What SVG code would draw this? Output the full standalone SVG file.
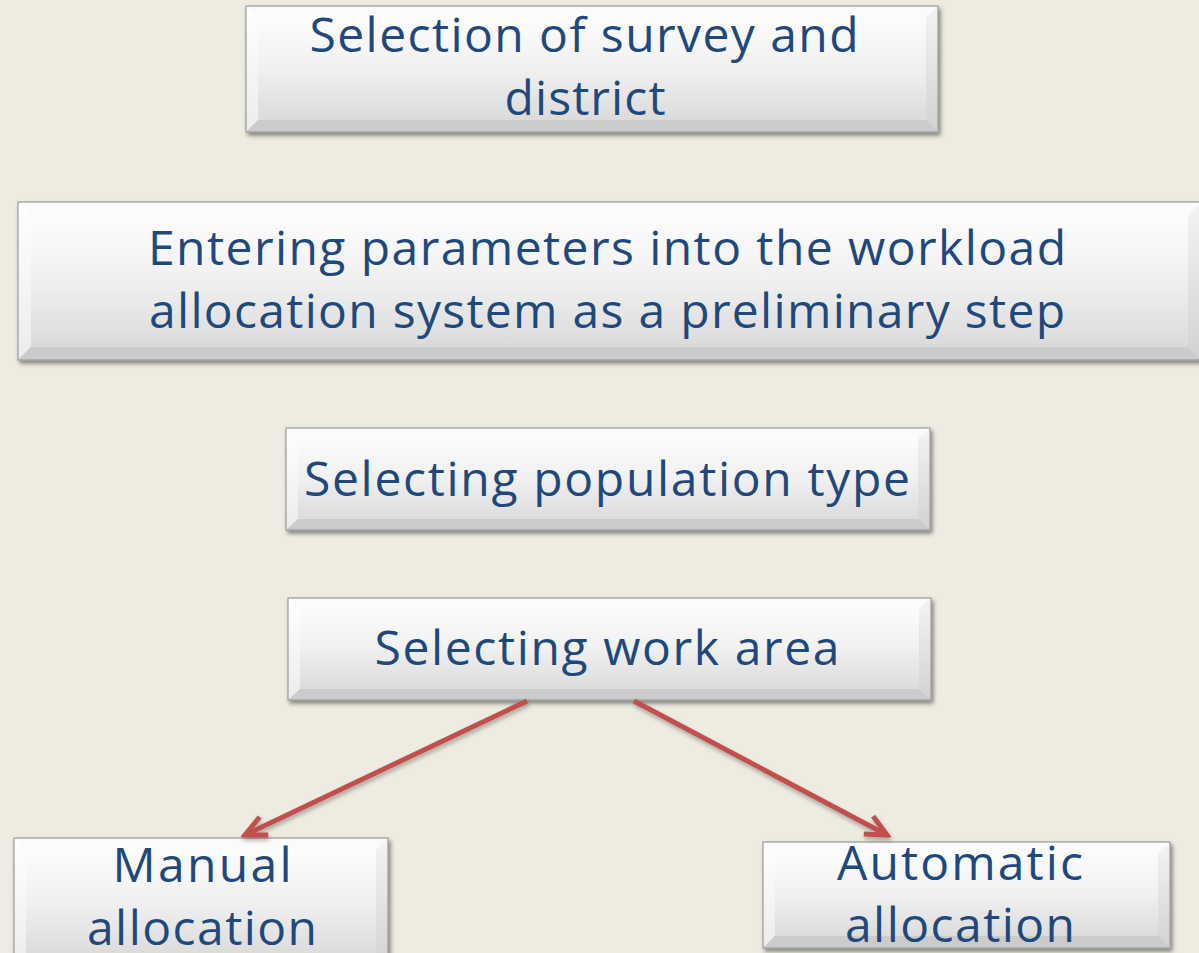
<svg xmlns="http://www.w3.org/2000/svg" width="1199" height="953" viewBox="0 0 1199 953">
<defs>
<style>
.face{fill:url(#gFace);}
.bt{fill:#fbfbfb;}
.bl{fill:url(#gLeft);}
.br{fill:url(#gRight);}
.bb{fill:#cbcbcb;}
.edge{fill:none;stroke:#9a9a9a;stroke-width:1.2;}
.t{font-family:"Open Sans","Noto Sans","Liberation Sans",sans-serif;font-size:48px;fill:#1f497d;text-anchor:middle;font-variant-ligatures:none;}
.conn{fill:none;stroke:#c0504d;stroke-width:5;}
</style>
<linearGradient id="gFace" x1="0" y1="0" x2="0" y2="1">
<stop offset="0" stop-color="#ffffff"/>
<stop offset="0.5" stop-color="#f0f0f0"/>
<stop offset="1" stop-color="#d6d6d6"/>
</linearGradient>
<linearGradient id="gLeft" x1="0" y1="0" x2="0" y2="1">
<stop offset="0" stop-color="#ffffff"/>
<stop offset="1" stop-color="#ececec"/>
</linearGradient>
<linearGradient id="gRight" x1="0" y1="0" x2="0" y2="1">
<stop offset="0" stop-color="#f4f4f4"/>
<stop offset="1" stop-color="#d2d2d2"/>
</linearGradient>
<filter id="sh" x="-5%" y="-10%" width="112%" height="130%">
<feDropShadow dx="2" dy="3" stdDeviation="2" flood-color="#000" flood-opacity="0.45"/>
</filter>
<filter id="lsh" x="-10%" y="-10%" width="120%" height="130%">
<feDropShadow dx="1" dy="3" stdDeviation="2" flood-color="#000" flood-opacity="0.3"/>
</filter>
<marker id="ah" markerUnits="userSpaceOnUse" viewBox="-26 -14 30 28" refX="0" refY="0" markerWidth="30" markerHeight="28" orient="auto">
<path d="M -21 -10 L 0 0 L -21 10" fill="none" stroke="#c0504d" stroke-width="5" stroke-linejoin="miter" stroke-linecap="butt"/>
</marker>
</defs>
<rect x="0" y="0" width="1199" height="953" fill="#eeece1"/>

<g id="node-survey">
<g filter="url(#sh)">
<rect x="246" y="6" width="692" height="126" class="face"/>
<polygon class="bt" points="246,6 938,6 926,17 258,17"/>
<polygon class="bl" points="246,6 258,17 258,120 246,132"/>
<polygon class="br" points="938,6 938,132 926,120 926,17"/>
<polygon class="bb" points="246,132 258,120 926,120 938,132"/>
<rect x="246" y="6" width="692" height="126" class="edge"/>
</g>
<text class="t" x="584" y="52" textLength="549">Selection of survey and</text>
<text class="t" x="585" y="115" textLength="161">district</text>
</g>

<g id="node-parameters">
<g filter="url(#sh)">
<rect x="18" y="202" width="1183" height="158" class="face"/>
<polygon class="bt" points="18,202 1201,202 1188,215 31,215"/>
<polygon class="bl" points="18,202 31,215 31,347 18,360"/>
<polygon class="br" points="1201,202 1201,360 1188,347 1188,215"/>
<polygon class="bb" points="18,360 31,347 1188,347 1201,360"/>
<rect x="18" y="202" width="1183" height="158" class="edge"/>
</g>
<text class="t" x="607" y="265" textLength="918">Entering parameters into the workload</text>
<text class="t" x="607" y="328" textLength="916">allocation system as a preliminary step</text>
</g>

<g id="node-population">
<g filter="url(#sh)">
<rect x="286" y="428" width="644" height="102" class="face"/>
<polygon class="bt" points="286,428 930,428 918,439 298,439"/>
<polygon class="bl" points="286,428 298,439 298,519 286,530"/>
<polygon class="br" points="930,428 930,530 918,519 918,439"/>
<polygon class="bb" points="286,530 298,519 918,519 930,530"/>
<rect x="286" y="428" width="644" height="102" class="edge"/>
</g>
<text class="t" x="607" y="496" textLength="606">Selecting population type</text>
</g>

<g id="node-workarea">
<g filter="url(#sh)">
<rect x="288" y="598" width="643" height="102" class="face"/>
<polygon class="bt" points="288,598 931,598 919,609 300,609"/>
<polygon class="bl" points="288,598 300,609 300,689 288,700"/>
<polygon class="br" points="931,598 931,700 919,689 919,609"/>
<polygon class="bb" points="288,700 300,689 919,689 931,700"/>
<rect x="288" y="598" width="643" height="102" class="edge"/>
</g>
<text class="t" x="607" y="665" textLength="465">Selecting work area</text>
</g>

<g id="node-manual">
<g filter="url(#sh)">
<rect x="14" y="838" width="374" height="130" class="face"/>
<polygon class="bt" points="14,838 388,838 376,850 26,850"/>
<polygon class="bl" points="14,838 26,850 26,956 14,968"/>
<polygon class="br" points="388,838 388,968 376,956 376,850"/>
<rect x="14" y="838" width="374" height="130" class="edge"/>
</g>
<text class="t" x="202" y="882" textLength="179">Manual</text>
<text class="t" x="202" y="945" textLength="230">allocation</text>
</g>

<g id="node-automatic">
<g filter="url(#sh)">
<rect x="763" y="842" width="407" height="106" class="face"/>
<polygon class="bt" points="763,842 1170,842 1158,853 775,853"/>
<polygon class="bl" points="763,842 775,853 775,936 763,948"/>
<polygon class="br" points="1170,842 1170,948 1158,936 1158,853"/>
<polygon class="bb" points="763,948 775,936 1158,936 1170,948"/>
<rect x="763" y="842" width="407" height="106" class="edge"/>
</g>
<text class="t" x="960" y="880" textLength="246">Automatic</text>
<text class="t" x="960" y="942" textLength="230">allocation</text>
</g>

<g id="connectors" filter="url(#lsh)">
<line class="conn" x1="527" y1="701" x2="245" y2="835" marker-end="url(#ah)"/>
<line class="conn" x1="634" y1="701" x2="887" y2="835" marker-end="url(#ah)"/>
</g>
</svg>
